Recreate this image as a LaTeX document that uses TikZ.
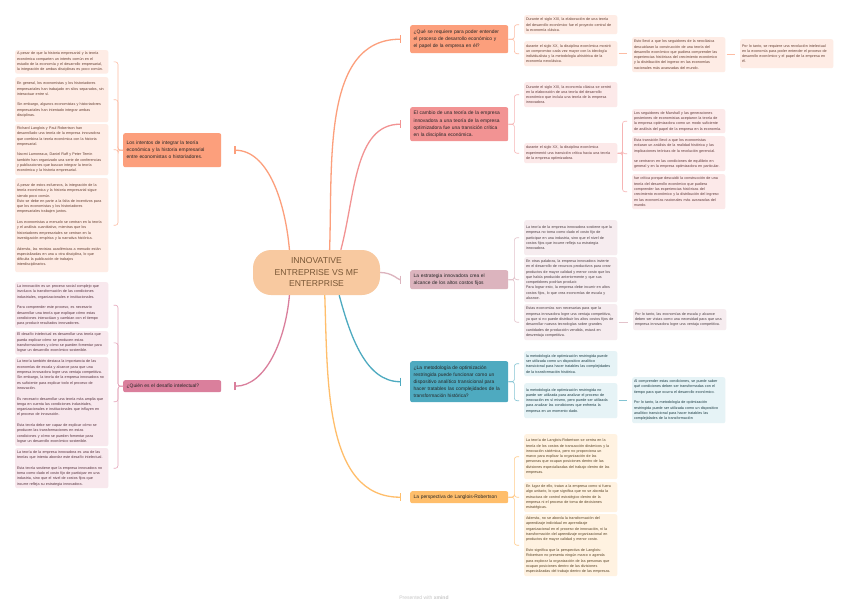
\documentclass[tikz,border=0pt]{standalone}
\usepackage{fontspec}
\setmainfont{Liberation Sans}
\usepackage{tikz}
\usetikzlibrary{arrows.meta, positioning, calc}

\definecolor{cCore}{HTML}{F8C9A0}
\definecolor{cSalmon}{HTML}{FC9F7C}
\definecolor{cRose}{HTML}{F29393}
\definecolor{cMauve}{HTML}{DCB4BE}
\definecolor{cTeal}{HTML}{4EAAC0}
\definecolor{cAmber}{HTML}{FFBE6B}
\definecolor{cPink}{HTML}{DA7F9C}
\hyphenpenalty=10000
\exhyphenpenalty=10000

\begin{document}
\begin{tikzpicture}[
  x=1pt, y=1pt,
  core/.style={fill=cCore, rounded corners=18pt, minimum width=127pt, minimum height=45pt, align=center, text=black!70!cCore!60!brown, font=\fontsize{8.6}{11.5}\selectfont},
  topic/.style={rounded corners=2pt, anchor=north west, text width=91pt, inner xsep=3.5pt, inner ysep=2pt, align=left, text=black!85, font=\fontsize{4.9}{7}\selectfont},
  leaf/.style={rounded corners=2pt, anchor=north west, text width=89.5pt, inner xsep=1.8pt, inner ysep=2pt, align=left, font=\fontsize{3.7}{5.3}\selectfont},
  link/.style={line width=1.3pt, -{Bar[width=8pt, line width=1.2pt]}},
  linkl/.style={link, shorten >=13pt},
  linkr/.style={link, shorten >=9pt},
  brace/.style={line width=0.6pt, rounded corners=2.5pt, shorten >=5pt},
  plain/.style={line width=0.6pt, shorten <=1pt, shorten >=5pt}
  ]
  \useasboundingbox[fill=white] (0,0) rectangle (848,-611);

  \node[core] (ctr) at (316.5,-272.5) {INNOVATIVE\\ENTREPRISE VS MF\\ENTERPRISE};

  \node[topic, fill=cSalmon, minimum height=34pt] (l1) at (123,-133) {Los intentos de integrar la teoría\\económica y la historia empresarial\\entre economistas o historiadores.};
  \node[topic, fill=cPink, minimum height=12pt] (l2) at (123,-380) {¿Quién es el desafío intelectual?};
  \node[topic, fill=cSalmon, minimum height=28pt] (r1) at (410,-25) {¿Qué se requiere para poder entender\\el proceso de desarrollo económico y\\el papel de la empresa en él?};
  \node[topic, fill=cRose, minimum height=34pt] (r2) at (410,-107) {El cambio de una teoría de la empresa\\innovadora a una teoría de la empresa\\optimizadora fue una transición crítica\\en la disciplina económica.};
  \node[topic, fill=cMauve, minimum height=19pt] (r3) at (410,-270) {La estrategia innovadora crea el\\alcance de los altos costos fijos};
  \node[topic, fill=cTeal, minimum height=41pt] (r4) at (410,-361) {¿La metodología de optimización\\restringida puede funcionar como un\\dispositivo analítico transicional para\\hacer tratables las complejidades de la\\transformación histórica?};
  \node[topic, fill=cAmber, minimum height=12pt] (r5) at (410,-491) {La perspectiva de Langlois-Robertson};

  \draw[linkl, cSalmon] (ctr.140) to[out=95, in=0] (l1.east);
  \draw[linkl, cPink] (ctr.220) to[out=-95, in=0] (l2.east);
  \draw[linkr, cSalmon] (ctr.60) to[out=88, in=180] (r1.west);
  \draw[linkr, cRose] (ctr.43) to[out=75, in=180] (r2.west);
  \draw[linkr, cMauve] (ctr.east) to[out=0, in=180] (r3.west);
  \draw[linkr, cTeal] (ctr.-45) to[out=-75, in=180] (r4.west);
  \draw[linkr, cAmber] (ctr.-70) to[out=-88, in=180] (r5.west);

  % left side
  \node[leaf, fill=cSalmon!20, text=cSalmon!40!black, minimum height=23pt] (l1a) at (15,-50) {A pesar de que la historia empresarial y la teoría\\económica comparten un interés común en el\\estudio de la economía y el desarrollo empresarial,\\la integración de ambas disciplinas es poco común.};
  \node[leaf, fill=cSalmon!20, text=cSalmon!40!black, minimum height=45pt] (l1b) at (15,-77) {En general, los economistas y los historiadores\\empresariales han trabajado en silos separados, sin\\interactuar entre sí.\\[5.3pt]Sin embargo, algunos economistas y historiadores\\empresariales han intentado integrar ambas\\disciplinas.};
  \node[leaf, fill=cSalmon!20, text=cSalmon!40!black, minimum height=51pt] (l1c) at (15,-124) {Richard Langlois y Paul Robertson han\\desarrollado una teoría de la empresa innovadora\\que combina la teoría económica con la historia\\empresarial.\\[5.3pt]Naomi Lamoreaux, Daniel Raff y Peter Temin\\también han organizado una serie de conferencias\\y publicaciones que buscan integrar la teoría\\económica y la historia empresarial.};
  \node[leaf, fill=cSalmon!20, text=cSalmon!40!black, minimum height=94pt] (l1d) at (15,-178) {A pesar de estos esfuerzos, la integración de la\\teoría económica y la historia empresarial sigue\\siendo poco común.\\Esto se debe en parte a la falta de incentivos para\\que los economistas y los historiadores\\empresariales trabajen juntos.\\[5.3pt]Los economistas a menudo se centran en la teoría\\y el análisis cuantitativo, mientras que los\\historiadores empresariales se centran en la\\investigación empírica y la narrativa histórica.\\[5.3pt]Además, las revistas académicas a menudo están\\especializadas en una u otra disciplina, lo que\\dificulta la publicación de trabajos\\interdisciplinarios.};

  \node[leaf, fill=cPink!18, text=cPink!40!black, minimum height=46pt] (l2a) at (15,-282) {La innovación es un proceso social complejo que\\involucra la transformación de las condiciones\\industriales, organizacionales e institucionales.\\[5.3pt]Para comprender este proceso, es necesario\\desarrollar una teoría que explique cómo estas\\condiciones interactúan y cambian con el tiempo\\para producir resultados innovadores.};
  \node[leaf, fill=cPink!18, text=cPink!40!black, minimum height=23pt] (l2b) at (15,-331) {El desafío intelectual es desarrollar una teoría que\\pueda explicar cómo se producen estas\\transformaciones y cómo se pueden fomentar para\\lograr un desarrollo económico sostenible.};
  \node[leaf, fill=cPink!18, text=cPink!40!black, minimum height=89pt] (l2c) at (15,-357) {La teoría también destaca la importancia de las\\economías de escala y alcance para que una\\empresa innovadora logre una ventaja competitiva.\\Sin embargo, la teoría de la empresa innovadora no\\es suficiente para explicar todo el proceso de\\innovación.\\[5.3pt]Es necesario desarrollar una teoría más amplia que\\tenga en cuenta las condiciones industriales,\\organizacionales e institucionales que influyen en\\el proceso de innovación.\\[5.3pt]Esta teoría debe ser capaz de explicar cómo se\\producen las transformaciones en estas\\condiciones y cómo se pueden fomentar para\\lograr un desarrollo económico sostenible.};
  \node[leaf, fill=cPink!18, text=cPink!40!black, minimum height=40pt] (l2d) at (15,-448) {La teoría de la empresa innovadora es una de las\\teorías que intenta abordar este desafío intelectual.\\[5.3pt]Esta teoría sostiene que la empresa innovadora no\\toma como dado el costo fijo de participar en una\\industria, sino que el nivel de costos fijos que\\incurre refleja su estrategia innovadora.};

  \foreach \c in {l1a,l1b,l1c,l1d}
    \draw[brace, cSalmon!70] (l1.west) -- ++(-5,0) |- (\c.east);
  \foreach \c in {l2a,l2b,l2c,l2d}
    \draw[brace, cPink!70] (l2.west) -- ++(-5,0) |- (\c.east);

  % right side
  \node[leaf, fill=cSalmon!20, text=cSalmon!40!black, minimum height=19pt] (r1a) at (524,-15) {Durante el siglo XIX, la elaboración de una teoría\\del desarrollo económico fue el proyecto central de\\la economía clásica.};
  \node[leaf, fill=cSalmon!20, text=cSalmon!40!black, minimum height=25pt] (r1b) at (524,-41) {durante el siglo XX, la disciplina económica mostró\\un compromiso cada vez mayor con la ideología\\individualista y la metodología ahistórica de la\\economía neoclásica.};
  \node[leaf, fill=cSalmon!20, text=cSalmon!40!black, minimum height=35pt] (r1c) at (632,-37) {Esto llevó a que los seguidores de la neoclásica\\descuidaran la construcción de una teoría del\\desarrollo económico que pudiera comprender las\\experiencias históricas del crecimiento económico\\y la distribución del ingreso en las economías\\nacionales más avanzadas del mundo.};
  \node[leaf, fill=cSalmon!20, text=cSalmon!40!black, minimum height=29pt] (r1d) at (740,-39) {Por lo tanto, se requiere una revolución intelectual\\en la economía para poder entender el proceso de\\desarrollo económico y el papel de la empresa en\\él.};

  \node[leaf, fill=cRose!20, text=cRose!40!black, minimum height=25pt] (r2a) at (524,-82) {Durante el siglo XIX, la economía clásica se centró\\en la elaboración de una teoría del desarrollo\\económico que incluía una teoría de la empresa\\innovadora.};
  \node[leaf, fill=cRose!20, text=cRose!40!black, minimum height=20pt] (r2b) at (524,-143) {durante el siglo XX, la disciplina económica\\experimentó una transición crítica hacia una teoría\\de la empresa optimizadora.};
  \node[leaf, fill=cRose!20, text=cRose!40!black, minimum height=24pt] (r2c) at (632,-109) {Los seguidores de Marshall y las generaciones\\posteriores de economistas aceptaron la teoría de\\la empresa optimizadora como un modo suficiente\\de análisis del papel de la empresa en la economía.};
  \node[leaf, fill=cRose!20, text=cRose!40!black, minimum height=35pt] (r2d) at (632,-136) {Esta transición llevó a que los economistas\\evitaran un análisis de la realidad histórica y las\\implicaciones teóricas de la revolución gerencial.\\[5.3pt]se centraron en las condiciones de equilibrio en\\general y en la empresa optimizadora en particular.};
  \node[leaf, fill=cRose!20, text=cRose!40!black, minimum height=35pt] (r2e) at (632,-174) {fue crítica porque descuidó la construcción de una\\teoría del desarrollo económico que pudiera\\comprender las experiencias históricas del\\crecimiento económico y la distribución del ingreso\\en las economías nacionales más avanzadas del\\mundo.};

  \node[leaf, fill=cMauve!25, text=cMauve!35!black, minimum height=35pt] (r3a) at (524,-220) {La teoría de la empresa innovadora sostiene que la\\empresa no toma como dado el costo fijo de\\participar en una industria, sino que el nivel de\\costos fijos que incurre refleja su estrategia\\innovadora.};
  \node[leaf, fill=cMauve!25, text=cMauve!35!black, minimum height=45pt] (r3b) at (524,-257) {En otras palabras, la empresa innovadora invierte\\en el desarrollo de recursos productivos para crear\\productos de mayor calidad y menor costo que los\\que había producido anteriormente y que sus\\competidores podrían producir.\\Para lograr esto, la empresa debe incurrir en altos\\costos fijos, lo que crea economías de escala y\\alcance.};
  \node[leaf, fill=cMauve!25, text=cMauve!35!black, minimum height=36pt] (r3c) at (524,-304) {Estas economías son necesarias para que la\\empresa innovadora logre una ventaja competitiva,\\ya que si no puede distribuir los altos costos fijos de\\desarrollar nuevas tecnologías sobre grandes\\cantidades de producción vendida, estará en\\desventaja competitiva.};
  \node[leaf, fill=cMauve!25, text=cMauve!35!black, minimum height=21pt] (r3d) at (633,-309) {Por lo tanto, las economías de escala y alcance\\deben ser vistas como una necesidad para que una\\empresa innovadora logre una ventaja competitiva.};

  \node[leaf, fill=cTeal!14, text=cTeal!35!black, minimum height=25pt] (r4a) at (524,-351) {la metodología de optimización restringida puede\\ser utilizada como un dispositivo analítico\\transicional para hacer tratables las complejidades\\de la transformación histórica.};
  \node[leaf, fill=cTeal!14, text=cTeal!35!black, minimum height=35pt] (r4b) at (524,-383) {la metodología de optimización restringida no\\puede ser utilizada para analizar el proceso de\\innovación en sí mismo, pero puede ser utilizada\\para analizar las condiciones que enfrenta la\\empresa en un momento dado.};
  \node[leaf, fill=cTeal!14, text=cTeal!35!black, minimum height=46pt] (r4c) at (632,-377) {Al comprender estas condiciones, se puede saber\\qué condiciones deben ser transformadas con el\\tiempo para que ocurra el desarrollo económico.\\[5.3pt]Por lo tanto, la metodología de optimización\\restringida puede ser utilizada como un dispositivo\\analítico transicional para hacer tratables las\\complejidades de la transformación};

  \node[leaf, fill=cAmber!20, text=cAmber!35!black, minimum height=45pt] (r5a) at (524,-434) {La teoría de Langlois-Robertson se centra en la\\teoría de los costos de transacción dinámicos y la\\innovación sistémica, pero no proporciona un\\marco para explicar la organización de las\\personas que ocupan posiciones dentro de las\\divisiones especializadas del trabajo dentro de las\\empresas.};
  \node[leaf, fill=cAmber!20, text=cAmber!35!black, minimum height=30pt] (r5b) at (524,-482) {En lugar de ello, tratan a la empresa como si fuera\\algo unitario, lo que significa que no se aborda la\\estructura de control estratégico dentro de la\\empresa ni el proceso de toma de decisiones\\estratégicas.};
  \node[leaf, fill=cAmber!20, text=cAmber!35!black, minimum height=62pt] (r5c) at (524,-514) {Además, no se aborda la transformación del\\aprendizaje individual en aprendizaje\\organizacional en el proceso de innovación, ni la\\transformación del aprendizaje organizacional en\\productos de mayor calidad y menor costo.\\[5.3pt]Esto significa que la perspectiva de Langlois-\\Robertson no presenta ningún marco o agenda\\para explorar la organización de las personas que\\ocupan posiciones dentro de las divisiones\\especializadas del trabajo dentro de las empresas.};

  \foreach \c in {r1a,r1b}
    \draw[brace, cSalmon!70] (r1.east) -- ++(6,0) |- (\c.west);
  \foreach \c in {r2a,r2b}
    \draw[brace, cRose!70] (r2.east) -- ++(6,0) |- (\c.west);
  \foreach \c in {r2c,r2d,r2e}
    \draw[brace, cRose!70] (r2b.east) -- ++(5,0) |- (\c.west);
  \foreach \c in {r3a,r3b,r3c}
    \draw[brace, cMauve!80] (r3.east) -- ++(6,0) |- (\c.west);
  \foreach \c in {r4a,r4b}
    \draw[brace, cTeal!70] (r4.east) -- ++(6,0) |- (\c.west);
  \foreach \c in {r5a,r5b,r5c}
    \draw[brace, cAmber!80] (r5.east) -- ++(6,0) |- (\c.west);

  \draw[plain, cSalmon!70] (r1b.east) -- (r1c.west |- r1b.east);
  \draw[plain, cSalmon!70] (r1c.east) -- (r1d.west |- r1c.east);
  \draw[plain, cMauve!80] (r3c.east) -- (r3d.west |- r3c.east);
  \draw[plain, cTeal!70] (r4b.east) -- (r4c.west |- r4b.east);

  \node[text=black!22, font=\fontsize{5}{6}\selectfont] (foot) at (424,-598) {Presented with \textbf{xmind}};
\end{tikzpicture}
\end{document}
